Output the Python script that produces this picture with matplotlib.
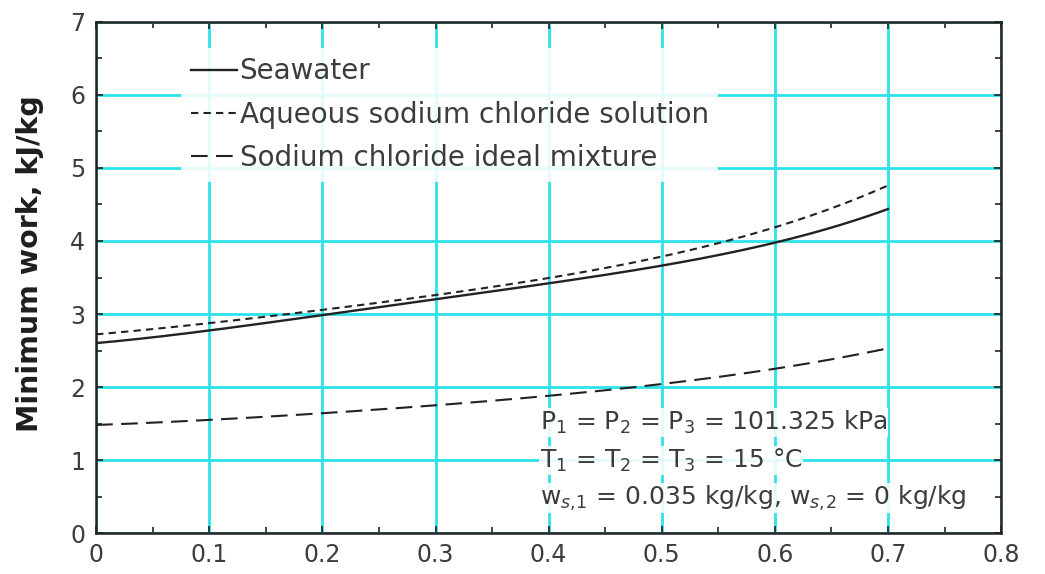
import numpy as np
import matplotlib.pyplot as plt
from matplotlib.ticker import MultipleLocator

plt.rcParams['font.family'] = ['DejaVu Sans']

# Recovery ratio and minimum work of separation (kJ/kg)
recovery = [0.0, 0.1, 0.2, 0.3, 0.4, 0.5, 0.6, 0.7]
seawater = [2.60, 2.78, 2.98, 3.20, 3.42, 3.67, 3.97, 4.44]
aqueous_nacl = [2.72, 2.88, 3.05, 3.26, 3.50, 3.78, 4.19, 4.76]
ideal_nacl = [1.48, 1.55, 1.64, 1.75, 1.88, 2.04, 2.25, 2.53]

series_labels = ['Seawater', 'Aqueous sodium chloride solution',
                 'Sodium chloride ideal mixture']
conditions = [r'P$_1$ = P$_2$ = P$_3$ = 101.325 kPa',
              r'T$_1$ = T$_2$ = T$_3$ = 15 °C',
              r'w$_{s,\!1}$ = 0.035 kg/kg, w$_{s,\!2}$ = 0 kg/kg']
xtick_labels = ['0', '0.1', '0.2', '0.3', '0.4', '0.5', '0.6', '0.7', '0.8']

text_color = '#3c3c3c'
grid_color = '#2ee2e8'

fig = plt.figure(figsize=(10.45, 5.74), dpi=100)
ax = fig.add_axes([0.092, 0.0714, 0.866, 0.8903])

# Smooth the curves through the tabulated points
xs = np.linspace(0, 0.7, 200)
def smooth(y):
    c = np.polyfit(recovery, y, 4)
    return np.polyval(c, xs)

ax.plot(xs, smooth(seawater), color='#222222', lw=1.7, ls='-',
        label=series_labels[0])
ax.plot(xs, smooth(aqueous_nacl), color='#222222', lw=1.5, ls=(0, (3.5, 2.5)),
        label=series_labels[1])
ax.plot(xs, smooth(ideal_nacl), color='#222222', lw=1.5, ls=(0, (8, 4)),
        label=series_labels[2])

ax.set_xlim(0, 0.8)
ax.set_ylim(0, 7)
ax.set_xticks(np.arange(0, 0.81, 0.1))
ax.set_xticklabels(xtick_labels)
ax.xaxis.set_minor_locator(MultipleLocator(0.05))
ax.yaxis.set_major_locator(MultipleLocator(1))
ax.yaxis.set_minor_locator(MultipleLocator(0.5))
ax.tick_params(which='both', direction='in', top=True, right=True,
               labelsize=17, labelcolor=text_color, color='#222222')
ax.tick_params(axis='x', pad=7)
ax.tick_params(axis='y', pad=8)
ax.tick_params(which='major', length=5, width=1.2)
ax.tick_params(which='minor', length=4, width=1.2)

ax.grid(True, which='major', color=grid_color, lw=2)
ax.set_axisbelow(True)
for s in ax.spines.values():
    s.set_color('#222222')
    s.set_linewidth(1.8)
    s.set_zorder(5)

ax.set_ylabel('Minimum work, kJ/kg', fontsize=20.5, fontweight='bold',
              color='#1e1e1e')
ax.yaxis.set_label_coords(-0.058, 0.527)

leg = ax.legend(loc='upper left', bbox_to_anchor=(0.094, 0.95), fontsize=20,
                frameon=True, framealpha=0.88, edgecolor='none', facecolor='white',
                handlelength=1.65, handletextpad=0.1, labelspacing=0.55,
                borderpad=0.35, borderaxespad=0, fancybox=False)
for t in leg.get_texts():
    t.set_color(text_color)

for i, line in enumerate(conditions):
    ax.text(0.392, 1.51 - i * 0.515, line, fontsize=18, color=text_color,
            va='center', ha='left',
            bbox=dict(facecolor='white', edgecolor='none', alpha=0.88, pad=0.5))

fig.savefig('out.png', dpi=100)
